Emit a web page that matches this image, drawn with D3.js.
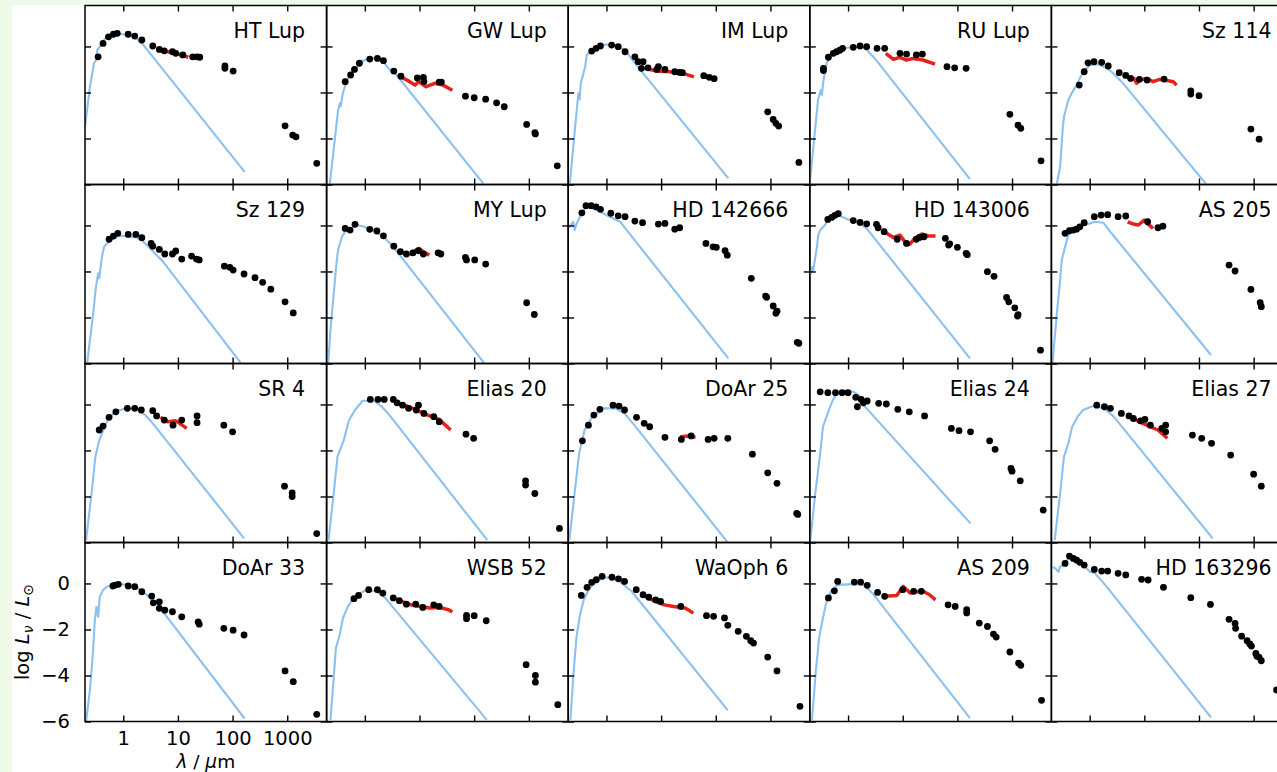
<!DOCTYPE html>
<html>
<head>
<meta charset="utf-8">
<script src="https://cdn.jsdelivr.net/npm/d3@7"></script>
<style>
  body { margin: 0; background: #f0fbe7; }
  svg { display: block; }
</style>
</head>
<body>
<div id="chart"></div>
<script>
// star names, row by row (5 columns x 4 rows)
const starNames = ['HT Lup', 'GW Lup', 'IM Lup', 'RU Lup', 'Sz 114',
    'Sz 129', 'MY Lup', 'HD 142666', 'HD 143006', 'AS 205',
    'SR 4', 'Elias 20', 'DoAr 25', 'Elias 24', 'Elias 27',
    'DoAr 33', 'WSB 52', 'WaOph 6', 'AS 209', 'HD 163296'];

// x axis ticks (log10 of lambda in micron) and y ticks (log L)
const xTicks = [0, 1, 2, 3];
const yTicks = [0, -2, -4, -6];

// photometry points: [log10 lambda/um, log L_nu/L_sun]
const photometry = [
    [[-0.46,-0.45],[-0.37,0.13],[-0.27,0.42],[-0.18,0.53],[-0.11,0.57],[0.09,0.53],[0.21,0.45],[0.34,0.28],[0.54,0.02],[0.66,-0.13],[0.75,-0.19],[0.90,-0.23],[0.96,-0.30],[1.09,-0.37],[1.27,-0.45],[1.35,-0.45],[1.40,-0.47],[1.86,-0.85],[1.86,-0.95],[2.01,-1.07],[2.96,-3.45],[3.10,-3.85],[3.16,-3.93],[3.54,-5.08]],
    [[-0.36,-1.53],[-0.26,-1.24],[-0.19,-1.0],[-0.10,-0.73],[0.09,-0.55],[0.23,-0.52],[0.34,-0.62],[0.53,-1.07],[0.66,-1.29],[0.96,-1.37],[1.07,-1.34],[1.08,-1.52],[1.36,-1.55],[1.40,-1.55],[1.84,-2.16],[2.0,-2.23],[2.21,-2.29],[2.41,-2.45],[2.55,-2.62],[2.96,-3.39],[3.11,-3.75],[3.12,-3.80],[3.52,-5.19]],
    [[-0.27,-0.20],[-0.19,-0.08],[-0.11,0.02],[0.095,0.06],[0.215,-0.01],[0.34,-0.23],[0.52,-0.45],[0.58,-0.66],[0.67,-0.66],[0.64,-0.95],[0.76,-0.93],[0.95,-0.88],[0.92,-1.0],[1.07,-1.0],[1.25,-1.10],[1.34,-1.13],[1.39,-1.14],[1.78,-1.27],[1.88,-1.34],[1.97,-1.40],[2.95,-2.84],[3.05,-3.17],[3.10,-3.34],[3.15,-3.46],[3.52,-5.04]],
    [[-0.45,-0.95],[-0.45,-1.05],[-0.36,-0.47],[-0.27,-0.30],[-0.21,-0.23],[-0.15,-0.16],[-0.10,-0.08],[0.095,-0.04],[0.22,0.02],[0.34,-0.01],[0.53,-0.08],[0.67,-0.08],[0.95,-0.30],[1.07,-0.33],[1.25,-0.37],[1.36,-0.33],[1.81,-0.88],[1.95,-0.93],[2.16,-0.95],[2.96,-2.95],[3.11,-3.42],[3.16,-3.56],[3.53,-4.97]],
    [[-0.19,-1.68],[-0.10,-1.10],[-0.03,-0.71],[0.08,-0.66],[0.22,-0.69],[0.34,-0.85],[0.54,-1.14],[0.66,-1.26],[0.75,-1.39],[0.91,-1.43],[1.05,-1.46],[1.36,-1.42],[1.85,-1.93],[1.85,-2.07],[2.0,-2.14],[2.95,-3.59],[3.10,-4.03]],
    [[-0.26,-0.60],[-0.18,-0.46],[-0.10,-0.34],[0.09,-0.39],[0.23,-0.39],[0.34,-0.53],[0.51,-0.78],[0.54,-0.90],[0.66,-1.04],[0.76,-1.24],[0.90,-1.24],[0.96,-1.11],[1.07,-1.46],[1.25,-1.33],[1.34,-1.46],[1.39,-1.50],[1.85,-1.77],[1.95,-1.82],[2.01,-1.94],[2.21,-2.11],[2.41,-2.27],[2.55,-2.47],[2.70,-2.77],[2.96,-3.32],[3.11,-3.80]],
    [[-0.36,-0.13],[-0.27,-0.20],[-0.18,0.05],[0.09,-0.17],[0.22,-0.24],[0.34,-0.45],[0.53,-0.90],[0.65,-1.14],[0.76,-1.24],[0.88,-1.19],[0.98,-1.10],[1.07,-1.24],[1.34,-1.19],[1.39,-1.24],[1.84,-1.39],[1.86,-1.50],[2.01,-1.50],[2.21,-1.68],[2.96,-3.36],[3.10,-3.87]],
    [[-0.45,0.55],[-0.375,0.86],[-0.28,0.86],[-0.19,0.81],[-0.11,0.70],[0.08,0.53],[0.215,0.42],[0.34,0.38],[0.52,0.19],[0.66,0.12],[0.95,0.06],[1.07,0.09],[1.25,-0.16],[1.34,-0.10],[1.82,-0.78],[1.95,-0.93],[2.01,-0.95],[2.17,-1.10],[2.21,-1.29],[2.65,-2.30],[2.91,-3.07],[2.93,-3.12],[3.05,-3.50],[3.10,-3.82],[3.12,-3.73],[3.49,-5.08],[3.52,-5.12]],
    [[-0.37,0.26],[-0.30,0.35],[-0.24,0.44],[-0.18,0.51],[0.095,0.21],[0.22,0.13],[0.34,0.07],[0.52,0.05],[0.55,-0.10],[0.66,-0.27],[0.90,-0.60],[1.07,-0.78],[1.25,-0.60],[1.31,-0.52],[1.39,-0.49],[1.78,-0.56],[1.84,-0.85],[1.86,-0.80],[2.00,-0.95],[2.16,-1.21],[2.18,-1.27],[2.55,-2.01],[2.67,-2.21],[2.90,-3.13],[2.94,-3.32],[3.05,-3.58],[3.10,-3.94],[3.11,-3.88],[3.52,-5.42]],
    [[-0.45,-0.34],[-0.37,-0.23],[-0.30,-0.20],[-0.24,-0.16],[-0.18,-0.06],[-0.10,0.12],[0.085,0.38],[0.21,0.45],[0.33,0.47],[0.52,0.38],[0.66,0.41],[1.06,0.16],[1.25,-0.10],[1.34,-0.03],[2.55,-1.72],[2.66,-1.98],[2.95,-2.78],[3.12,-3.36],[3.14,-3.53]],
    [[-0.44,-1.11],[-0.37,-0.94],[-0.26,-0.56],[-0.135,-0.32],[0.075,-0.17],[0.21,-0.17],[0.33,-0.24],[0.54,-0.27],[0.61,-0.50],[0.75,-0.68],[0.91,-0.90],[1.07,-0.68],[1.35,-0.50],[1.35,-0.79],[1.84,-0.90],[2.0,-1.19],[2.95,-3.55],[3.09,-3.84],[3.09,-4.0],[3.54,-5.61]],
    [[0.10,0.22],[0.24,0.22],[0.355,0.22],[0.52,0.22],[0.59,0.07],[0.69,-0.03],[0.80,-0.17],[0.94,-0.24],[0.98,-0.03],[1.08,-0.39],[1.26,-0.53],[1.36,-0.75],[1.85,-1.29],[1.99,-1.47],[2.94,-3.32],[2.94,-3.5],[3.11,-3.87],[3.56,-5.39]],
    [[-0.44,-1.58],[-0.33,-0.90],[-0.23,-0.46],[-0.12,-0.21],[0.12,-0.03],[0.23,-0.07],[0.33,-0.24],[0.55,-0.56],[0.69,-0.82],[0.79,-0.97],[1.07,-1.43],[1.37,-1.52],[1.55,-1.37],[1.86,-1.52],[1.97,-1.47],[2.22,-1.47],[2.67,-2.16],[2.95,-2.97],[3.12,-3.43],[3.48,-4.73],[3.50,-4.78]],
    [[-0.51,0.55],[-0.37,0.51],[-0.23,0.51],[-0.11,0.51],[0.0,0.51],[0.14,0.31],[0.24,0.22],[0.35,0.15],[0.17,-0.10],[0.28,0.07],[0.56,0.05],[0.70,0.02],[0.91,-0.21],[1.12,-0.32],[1.40,-0.50],[1.89,-1.04],[2.03,-1.14],[2.24,-1.19],[2.59,-1.58],[2.69,-1.95],[2.98,-2.78],[3.0,-2.9],[3.15,-3.32],[3.57,-4.59]],
    [[0.13,-0.03],[0.27,-0.10],[0.38,-0.17],[0.58,-0.39],[0.72,-0.50],[0.80,-0.61],[0.93,-0.71],[1.01,-0.65],[1.11,-0.90],[1.32,-1.04],[1.39,-0.90],[1.39,-1.19],[1.88,-1.33],[2.05,-1.47],[2.23,-1.69],[2.58,-2.20],[3.0,-3.03],[3.14,-3.55]],
    [[-0.19,-0.11],[-0.15,-0.07],[-0.09,-0.04],[0.09,-0.11],[0.21,-0.14],[0.34,-0.36],[0.52,-0.55],[0.55,-0.84],[0.66,-0.80],[0.66,-1.08],[0.76,-1.16],[0.90,-1.23],[1.07,-1.45],[1.37,-1.67],[1.39,-1.77],[1.84,-1.95],[2.01,-2.03],[2.21,-2.24],[2.96,-3.80],[3.11,-4.27],[3.54,-5.69]],
    [[-0.20,-0.66],[-0.115,-0.52],[0.07,-0.27],[0.23,-0.27],[0.33,-0.42],[0.52,-0.63],[0.63,-0.75],[0.76,-0.90],[0.93,-0.90],[1.06,-1.04],[1.26,-0.93],[1.36,-1.0],[1.86,-1.39],[1.86,-1.53],[2.0,-1.40],[2.22,-1.62],[2.95,-3.53],[3.12,-4.0],[3.12,-4.29],[3.53,-5.27]],
    [[-0.46,-0.52],[-0.355,-0.17],[-0.27,0.05],[-0.185,0.16],[-0.08,0.31],[0.10,0.27],[0.22,0.20],[0.33,0.09],[0.545,-0.27],[0.67,-0.49],[0.775,-0.60],[0.90,-0.71],[0.99,-0.78],[1.36,-1.0],[1.83,-1.40],[1.96,-1.43],[2.16,-1.50],[2.22,-1.82],[2.41,-2.08],[2.56,-2.30],[2.64,-2.49],[2.69,-2.59],[2.95,-3.20],[3.12,-3.80],[3.54,-5.34]],
    [[-0.36,-0.63],[-0.25,-0.32],[-0.19,0.09],[0.115,0.06],[0.23,0.06],[0.35,-0.08],[0.54,-0.39],[0.67,-0.56],[1.0,-0.27],[1.20,-0.34],[1.34,-0.34],[1.83,-0.93],[1.96,-1.0],[2.17,-1.14],[2.17,-1.28],[2.40,-1.72],[2.55,-1.87],[2.66,-2.20],[2.71,-2.33],[2.96,-2.98],[3.12,-3.46],[3.16,-3.56],[3.54,-5.08]],
    [[-0.45,0.87],[-0.37,1.19],[-0.30,1.09],[-0.24,1.02],[-0.18,0.92],[-0.10,0.80],[0.085,0.61],[0.22,0.54],[0.33,0.54],[0.52,0.44],[0.66,0.37],[0.95,0.18],[1.07,0.15],[1.35,-0.17],[1.85,-0.62],[2.21,-0.91],[2.55,-1.56],[2.66,-1.74],[2.67,-1.95],[2.78,-2.29],[2.88,-2.49],[2.93,-2.63],[2.96,-2.72],[3.04,-3.04],[3.06,-3.16],[3.10,-3.21],[3.14,-3.36],[3.42,-4.63]]
];

// IR spectra (red), empty where none was plotted
const spectra = [
    [[0.67,-0.16],[0.80,-0.22],[0.95,-0.30],[1.08,-0.38],[1.19,-0.47]],
    [[0.69,-1.36],[0.82,-1.53],[0.92,-1.68],[0.98,-1.53],[1.12,-1.75],[1.28,-1.60],[1.43,-1.68],[1.60,-1.90]],
    [[0.70,-0.95],[0.92,-1.07],[1.16,-1.10],[1.40,-1.17],[1.60,-1.32]],
    [[0.69,-0.30],[0.83,-0.56],[0.95,-0.47],[1.07,-0.59],[1.19,-0.52],[1.37,-0.59],[1.59,-0.77]],
    [[0.80,-1.34],[0.86,-1.60],[0.92,-1.46],[1.04,-1.39],[1.16,-1.53],[1.28,-1.43],[1.44,-1.49],[1.53,-1.53],[1.59,-1.68]],
    [],
    [[0.82,-1.29],[0.91,-1.10],[0.99,-1.0],[1.07,-1.14],[1.18,-1.29]],
    [],
    [[0.705,-0.34],[0.83,-0.52],[0.95,-0.42],[1.04,-0.71],[1.13,-0.81],[1.22,-0.56],[1.35,-0.37],[1.47,-0.46],[1.60,-0.46]],
    [[0.695,0.16],[0.80,0.06],[0.89,0.02],[1.0,0.23],[1.07,0.06],[1.16,-0.13]],
    [[0.68,-0.56],[0.815,-0.75],[0.955,-0.71],[1.03,-0.82],[1.16,-1.04]],
    [[0.73,-0.03],[0.94,-0.24],[1.15,-0.46],[1.36,-0.65],[1.57,-1.11]],
    [[1.35,-1.40],[1.49,-1.37],[1.63,-1.43]],
    [],
    [[0.76,-0.53],[0.90,-0.75],[1.11,-0.97],[1.25,-1.11],[1.42,-1.47]],
    [],
    [[0.67,-0.78],[0.845,-0.93],[1.02,-1.0],[1.19,-1.07],[1.36,-1.04],[1.53,-1.14],[1.60,-1.24]],
    [[0.715,-0.56],[0.89,-0.78],[1.06,-0.93],[1.23,-1.0],[1.44,-1.07],[1.59,-1.29]],
    [[0.67,-0.56],[0.89,-0.52],[1.01,-0.13],[1.14,-0.42],[1.36,-0.32],[1.49,-0.49],[1.60,-0.71]],
    []
];

// stellar photosphere models (light blue)
const photospheres = [
    [[-0.70,-3.49],[-0.61,-1.75],[-0.535,-0.73],[-0.50,-0.59],[-0.475,-0.16],[-0.43,-0.01],[-0.33,0.35],[-0.21,0.50],[-0.06,0.54],[0.12,0.50],[0.245,0.35],[0.37,0.06],[2.22,-5.45]],
    [[-0.64,-5.95],[-0.49,-2.77],[-0.455,-2.47],[-0.44,-2.6],[-0.41,-2.11],[-0.33,-1.46],[-0.21,-1.03],[-0.03,-0.62],[0.09,-0.49],[0.28,-0.52],[0.46,-1.03],[0.58,-1.24],[2.165,-5.95]],
    [[-0.67,-5.95],[-0.515,-2.04],[-0.49,-2.3],[-0.47,-1.6],[-0.39,-0.88],[-0.36,-0.37],[-0.30,-0.23],[-0.12,0.06],[0.12,0.09],[0.34,-0.16],[0.55,-0.81],[2.23,-5.73]],
    [[-0.70,-5.95],[-0.55,-2.33],[-0.50,-1.9],[-0.48,-2.1],[-0.45,-1.46],[-0.39,-0.73],[-0.33,-0.45],[-0.09,-0.08],[0.19,-0.01],[0.31,-0.08],[0.49,-0.52],[2.23,-5.77]],
    [[-0.60,-5.95],[-0.54,-5.23],[-0.49,-3.49],[-0.47,-3.06],[-0.39,-2.33],[-0.33,-2.04],[-0.24,-1.68],[-0.12,-1.10],[0.005,-0.81],[0.16,-0.77],[0.31,-0.95],[0.40,-1.10],[0.585,-1.53],[2.12,-5.95]],
    [[-0.66,-5.97],[-0.55,-3.82],[-0.50,-2.67],[-0.46,-2.08],[-0.44,-2.3],[-0.39,-1.36],[-0.35,-0.93],[-0.27,-0.71],[-0.12,-0.46],[0.06,-0.46],[0.245,-0.52],[0.37,-0.71],[0.52,-1.07],[0.73,-1.58],[2.15,-5.97]],
    [[-0.67,-5.97],[-0.625,-4.40],[-0.58,-3.24],[-0.52,-1.65],[-0.49,-1.07],[-0.42,-0.49],[-0.36,-0.27],[-0.15,0.02],[-0.03,-0.05],[0.15,-0.20],[0.34,-0.49],[0.52,-0.93],[2.18,-5.97]],
    [[-0.70,-0.10],[-0.67,-0.06],[-0.61,0.16],[-0.58,-0.20],[-0.545,0.09],[-0.485,0.38],[-0.39,0.74],[-0.30,0.79],[-0.12,0.60],[0.06,0.38],[0.25,0.16],[0.37,-0.20],[2.23,-5.78]],
    [[-0.70,-2.23],[-0.655,-1.80],[-0.64,-2.01],[-0.57,-0.93],[-0.545,-0.42],[-0.51,-0.20],[-0.45,-0.06],[-0.36,0.23],[-0.18,0.45],[0.0,0.26],[0.19,0.12],[0.34,-0.13],[2.23,-5.78]],
    [[-0.68,-5.97],[-0.60,-3.82],[-0.54,-2.37],[-0.51,-1.50],[-0.45,-0.93],[-0.39,-0.42],[-0.30,-0.20],[-0.09,0.02],[0.10,0.16],[0.25,0.12],[0.40,-0.34],[2.22,-5.63]],
    [[-0.68,-5.90],[-0.58,-3.87],[-0.51,-2.27],[-0.44,-1.55],[-0.30,-0.75],[-0.16,-0.32],[0.05,-0.17],[0.26,-0.21],[0.40,-0.46],[0.54,-0.82],[2.21,-5.82]],
    [[-0.665,-5.90],[-0.57,-3.87],[-0.50,-2.27],[-0.385,-1.55],[-0.29,-0.68],[-0.18,-0.24],[-0.04,0.16],[0.17,0.16],[0.31,-0.10],[0.45,-0.46],[2.24,-5.90]],
    [[-0.68,-5.9],[-0.57,-3.58],[-0.50,-2.13],[-0.40,-1.11],[-0.26,-0.53],[-0.05,-0.17],[0.16,-0.17],[0.33,-0.39],[0.51,-0.90],[2.21,-5.97]],
    [[-0.69,-5.9],[-0.60,-3.87],[-0.51,-2.13],[-0.46,-0.97],[-0.35,-0.24],[-0.28,0.19],[-0.20,0.48],[-0.07,0.60],[0.10,0.55],[0.21,0.37],[0.285,-0.03],[2.24,-5.17]],
    [[-0.64,-5.9],[-0.54,-3.87],[-0.47,-2.27],[-0.39,-1.69],[-0.32,-0.97],[-0.22,-0.53],[-0.12,-0.24],[0.06,-0.07],[0.27,-0.17],[0.44,-0.53],[2.25,-5.82]],
    [[-0.68,-6.0],[-0.61,-4.63],[-0.56,-3.19],[-0.52,-1.59],[-0.49,-1.01],[-0.46,-1.45],[-0.43,-0.58],[-0.37,-0.29],[-0.30,-0.14],[-0.18,-0.04],[0.0,-0.04],[0.245,-0.17],[0.43,-0.50],[0.61,-0.87],[2.22,-5.87]],
    [[-0.63,-5.93],[-0.57,-4.11],[-0.53,-2.81],[-0.46,-2.23],[-0.40,-1.50],[-0.31,-1.0],[-0.185,-0.56],[-0.01,-0.32],[0.20,-0.32],[0.37,-0.63],[2.23,-5.93]],
    [[-0.66,-5.93],[-0.60,-3.82],[-0.55,-2.37],[-0.485,-1.36],[-0.415,-0.71],[-0.31,-0.20],[-0.14,0.16],[0.03,0.27],[0.24,0.09],[0.46,-0.34],[2.22,-5.52]],
    [[-0.66,-5.93],[-0.59,-3.82],[-0.53,-2.37],[-0.46,-1.50],[-0.40,-0.85],[-0.315,-0.34],[-0.185,-0.06],[0.07,-0.03],[0.29,-0.06],[0.46,-0.46],[2.23,-5.85]],
    [[-0.70,0.73],[-0.63,0.66],[-0.57,0.51],[-0.54,0.73],[-0.45,0.87],[-0.36,1.19],[-0.24,0.99],[-0.055,0.66],[0.005,0.51],[0.10,0.44],[0.31,-0.14],[2.22,-5.82]]
];

const W = 1277, H = 772;
const nCols = 5;
const panelW = 241.6, panelH = 179;
const gridLeft = 85, gridTop = 5.5;
const font = '"DejaVu Sans", sans-serif';
const blue = '#8cc0f0', red = '#e8201c';

const svg = d3.select('#chart').append('svg')
    .attr('width', W).attr('height', H);

// white figure area (light green page shows on left/top edges)
svg.append('rect').attr('x', 12).attr('y', 5)
    .attr('width', W).attr('height', H).attr('fill', '#ffffff');

const x = d3.scaleLinear().domain([-0.70, 3.72]).range([0, panelW]);
const y = d3.scaleLinear().domain([-6, 1.78]).range([panelH, 0]);

const line = d3.line().x(d => x(d[0])).y(d => y(d[1]));

svg.append('defs').append('clipPath').attr('id', 'panelClip')
    .append('rect').attr('width', panelW).attr('height', panelH);

starNames.forEach((name, i) => {
    const col = i % nCols, row = Math.floor(i / nCols);
    const g = svg.append('g')
        .attr('transform', `translate(${gridLeft + col * panelW},${gridTop + row * panelH})`);
    const labelled = (col === 0 && row === 3);

    const plot = g.append('g').attr('clip-path', 'url(#panelClip)');

    plot.append('path').datum(photospheres[i])
        .attr('d', line).attr('fill', 'none')
        .attr('stroke', blue).attr('stroke-width', 2.1)
        .attr('stroke-linejoin', 'round');

    if (spectra[i].length) {
        plot.append('path').datum(spectra[i])
            .attr('d', line).attr('fill', 'none')
            .attr('stroke', red).attr('stroke-width', 3.5)
            .attr('stroke-linejoin', 'round');
    }

    plot.selectAll('circle').data(photometry[i]).enter().append('circle')
        .attr('cx', d => x(d[0])).attr('cy', d => y(d[1]))
        .attr('r', 3.4).attr('fill', '#000');

    // inward ticks on all four sides
    const fmtX = d => String(Math.round(Math.pow(10, d)));
    const axes = [
        { ax: d3.axisBottom(x).tickValues(xTicks).tickSize(-6).tickPadding(10)
            .tickFormat(labelled ? fmtX : ''), tr: `translate(0,${panelH})` },
        { ax: d3.axisTop(x).tickValues(xTicks).tickSize(-6).tickFormat(''), tr: 'translate(0,0)' },
        { ax: d3.axisLeft(y).tickValues(yTicks).tickSize(-6).tickPadding(15)
            .tickFormat(labelled ? d3.format('d') : ''), tr: 'translate(0,0)' },
        { ax: d3.axisRight(y).tickValues(yTicks).tickSize(-6).tickFormat(''), tr: `translate(${panelW},0)` }
    ];
    axes.forEach(a => {
        const ga = g.append('g').attr('transform', a.tr).call(a.ax);
        ga.select('.domain').remove();
        ga.selectAll('line').attr('stroke', '#000').attr('stroke-width', 1.4);
        ga.selectAll('text').attr('fill', '#000')
            .style('font-family', font).style('font-size', '19.5px');
    });

    g.append('rect').attr('width', panelW).attr('height', panelH)
        .attr('fill', 'none').attr('stroke', '#000').attr('stroke-width', 1.5);

    g.append('text')
        .attr('x', panelW - 21.5).attr('y', 32)
        .attr('text-anchor', 'end')
        .style('font-family', font).style('font-size', '20.5px')
        .attr('fill', '#000').text(name);
});

// axis labels on the bottom-left panel
const yLab = svg.append('text')
    .attr('transform', `translate(29,${gridTop + 3.5 * panelH}) rotate(-90)`)
    .attr('text-anchor', 'middle')
    .style('font-family', font).style('font-size', '19.5px').attr('fill', '#000');
yLab.append('tspan').text('log ');
yLab.append('tspan').style('font-style', 'italic').text('L');
yLab.append('tspan').style('font-style', 'italic').style('font-size', '14px').attr('dy', '4px').text('ν');
yLab.append('tspan').attr('dy', '-4px').text(' / ');
yLab.append('tspan').style('font-style', 'italic').text('L');
yLab.append('tspan').style('font-size', '14px').attr('dy', '4px').text('⊙');

const xLab = svg.append('text')
    .attr('x', gridLeft + panelW / 2).attr('y', 767.5)
    .attr('text-anchor', 'middle')
    .style('font-family', font).style('font-size', '18.5px').attr('fill', '#000');
xLab.append('tspan').style('font-style', 'italic').text('λ');
xLab.append('tspan').text(' / ');
xLab.append('tspan').style('font-style', 'italic').text('μ');
xLab.append('tspan').text('m');
</script>
</body>
</html>
